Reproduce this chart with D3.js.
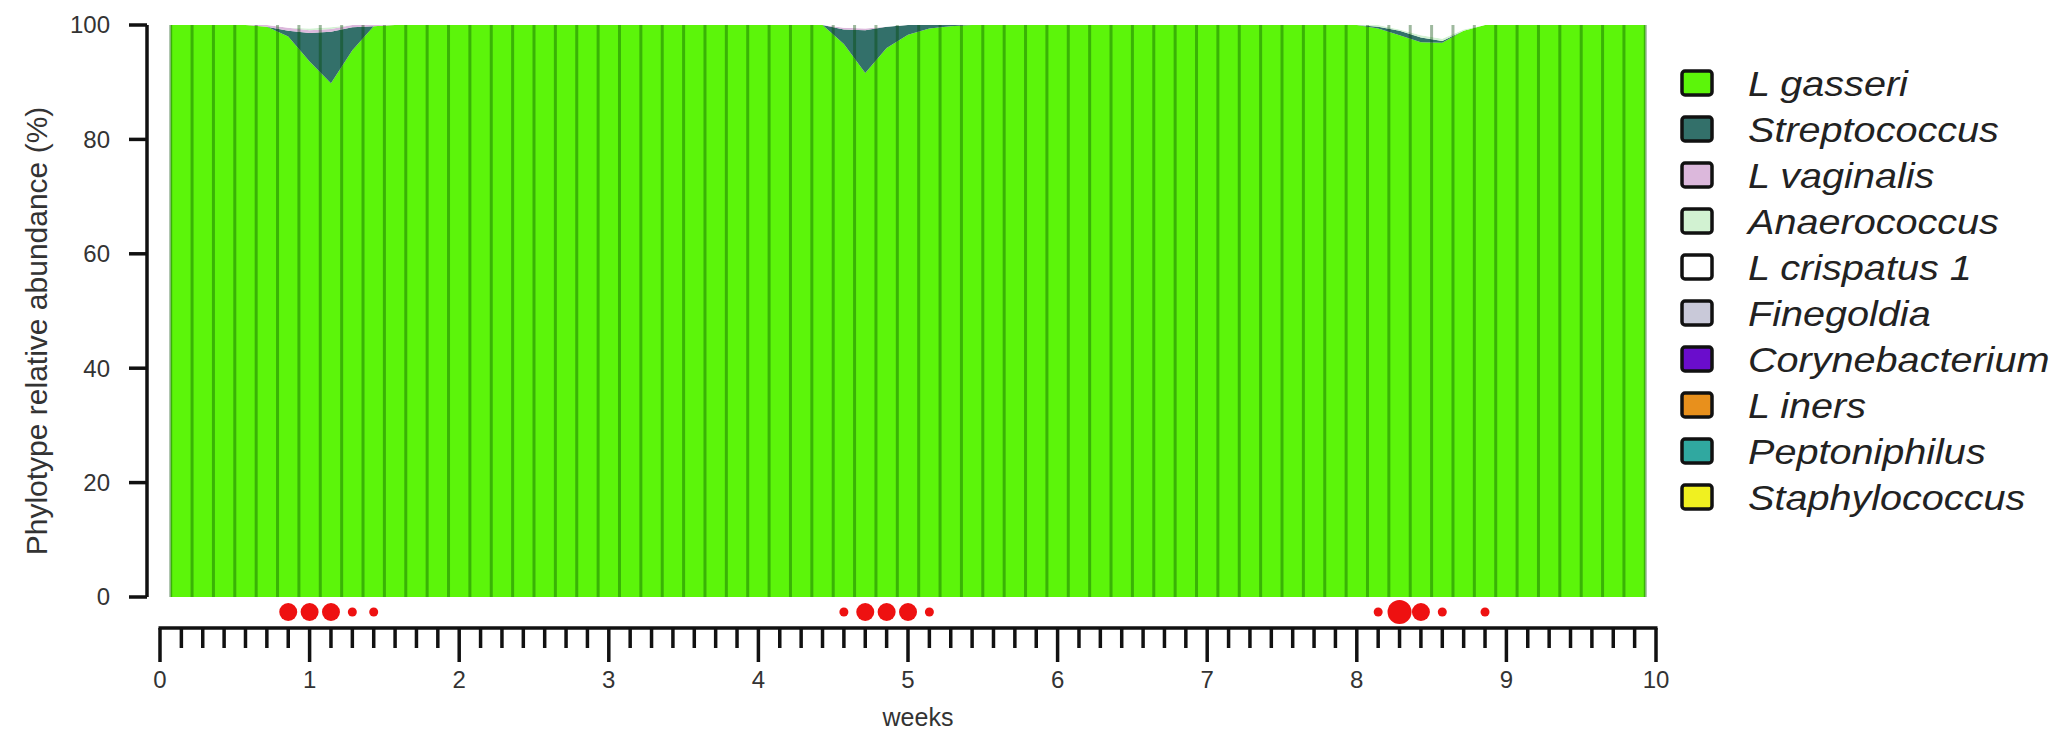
<!DOCTYPE html>
<html>
<head>
<meta charset="utf-8">
<script src="https://cdn.jsdelivr.net/npm/d3@7"></script>
<style>
  body { margin: 0; background: #fff; }
  text { font-family: "Liberation Sans", Arial, sans-serif; }
</style>
</head>
<body>
<div id="chart"></div>
<script>
// sample days (daily samples over 10 weeks)
var days = d3.range(1, 70);

// L gasseri, % per day, one row per week
var lGasseri = [
  100, 100, 100, 100, 99.7, 98, 93.6,
  89.8, 95.6, 99.8, 100, 100, 100, 100,
  100, 100, 100, 100, 100, 100, 100,
  100, 100, 100, 100, 100, 100, 100,
  100, 100, 100, 96.7, 91.6, 96, 98.3,
  99.4, 99.8, 100, 100, 100, 100, 100,
  100, 100, 100, 100, 100, 100, 100,
  100, 100, 100, 100, 100, 100, 100,
  99.4, 98.2, 97, 96.9, 99, 100, 100,
  100, 100, 100, 100, 100, 100
];

// minor phylotypes, [day, %] where present
var streptococcus = [[6, 1], [7, 5], [8, 9], [9, 4], [32, 2.5], [33, 7.5], [34, 3.7],
  [35, 1.7], [36, 0.6], [37, 0.2], [57, 0.3], [58, 0.8], [59, 0.8], [60, 0.3]];
var lVaginalis = [[5, 0.3], [6, 0.5], [7, 0.5], [8, 0.5], [9, 0.4], [10, 0.2], [32, 0.3], [33, 0.3]];
var anaerococcus = [[7, 0.3], [8, 0.3], [57, 0.3], [58, 0.2], [59, 0.4], [60, 0.4], [61, 0.2]];
var lCrispatus1 = [[6, 0.5], [7, 0.6], [8, 0.4], [32, 0.5], [33, 0.6], [34, 0.3],
  [58, 0.8], [59, 1.8], [60, 2.4], [61, 0.8]];
var finegoldia = [];
var corynebacterium = [];
var lIners = [];
var peptoniphilus = [];
var staphylococcus = [];

var species = ["L gasseri", "Streptococcus", "L vaginalis", "Anaerococcus", "L crispatus 1",
  "Finegoldia", "Corynebacterium", "L iners", "Peptoniphilus", "Staphylococcus"];
var colors = ["#5cf50a", "#33706a", "#dcb8dc", "#d2f2d2", "#ffffff",
  "#c9c9d9", "#6a0dcc", "#e8901c", "#30a8a0", "#f0f020"];

// bleeding marks below the chart: [day, size]
var bleeding = [[6, 2], [7, 2], [8, 2], [9, 1], [10, 1],
  [32, 1], [33, 2], [34, 2], [35, 2], [36, 1],
  [57, 1], [58, 3], [59, 2], [60, 1], [62, 1]];

var yTicks = [0, 20, 40, 60, 80, 100];
var xTicks = [0, 1, 2, 3, 4, 5, 6, 7, 8, 9, 10];

// build table for the stack
var minor = [streptococcus, lVaginalis, anaerococcus, lCrispatus1, finegoldia,
  corynebacterium, lIners, peptoniphilus, staphylococcus];
var table = days.map(function(d, i) {
  var row = { day: d };
  row[species[0]] = lGasseri[i];
  minor.forEach(function(s, k) {
    var hit = s.find(function(p) { return p[0] === d; });
    row[species[k + 1]] = hit ? hit[1] : 0;
  });
  return row;
});

var W = 2065, H = 735;
var svg = d3.select("#chart").append("svg")
  .attr("width", W)
  .attr("height", H);

var x = d3.scaleLinear().domain([0, 10]).range([160, 1656]);
var y = d3.scaleLinear().domain([0, 100]).range([597, 25]);
function xd(day) { return x(day / 7); }

var stack = d3.stack().keys(species);
var layers = stack(table);

// first and last samples are drawn out to their half-day edges
var area = d3.area()
  .x(function(d, i, arr) {
    if (i === 0) return xd(d.data.day - 0.5);
    if (i === arr.length - 1) return xd(d.data.day + 0.5);
    return xd(d.data.day);
  })
  .y0(function(d) { return y(d[0]); })
  .y1(function(d) { return y(d[1]); });

svg.append("g")
  .selectAll("path")
  .data(layers)
  .enter()
  .append("path")
  .attr("d", area)
  .attr("fill", function(d, i) { return colors[i]; });

// sample separators
svg.append("g")
  .selectAll("line")
  .data(d3.range(0.5, 70, 1))
  .enter()
  .append("line")
  .attr("x1", function(d) { return xd(d); })
  .attr("x2", function(d) { return xd(d); })
  .attr("y1", y(100))
  .attr("y2", y(0))
  .attr("stroke", "rgba(0,70,0,0.38)")
  .attr("stroke-width", 3);

// y axis
var yAxis = svg.append("g").attr("transform", "translate(147,0)");
yAxis.append("line")
  .attr("y1", y(0)).attr("y2", y(100))
  .attr("stroke", "#111").attr("stroke-width", 3.5);
yAxis.selectAll(".tick")
  .data(yTicks)
  .enter()
  .append("line")
  .attr("x1", -18).attr("x2", 0)
  .attr("y1", function(d) { return y(d); })
  .attr("y2", function(d) { return y(d); })
  .attr("stroke", "#111").attr("stroke-width", 3.5);
yAxis.selectAll("text")
  .data(yTicks)
  .enter()
  .append("text")
  .attr("x", -37)
  .attr("y", function(d) { return y(d); })
  .attr("dy", "0.35em")
  .attr("text-anchor", "end")
  .style("font-size", "24px")
  .style("fill", "#333")
  .text(function(d) { return d; });

svg.append("text")
  .attr("transform", "translate(47,331)rotate(-90)")
  .attr("text-anchor", "middle")
  .style("font-size", "30px")
  .style("fill", "#333")
  .text("Phylotype relative abundance (%)");

// x axis with daily minor ticks
var xAxisY = 628;
var xAxis = svg.append("g").attr("transform", "translate(0," + xAxisY + ")");
xAxis.append("line")
  .attr("x1", x(0) - 1.5).attr("x2", x(10) + 1.5)
  .attr("stroke", "#111").attr("stroke-width", 3.5);
xAxis.selectAll(".minor")
  .data(d3.range(0, 71))
  .enter()
  .append("line")
  .attr("x1", function(d) { return xd(d); })
  .attr("x2", function(d) { return xd(d); })
  .attr("y1", 0)
  .attr("y2", function(d) { return d % 7 === 0 ? 34 : 20; })
  .attr("stroke", "#111").attr("stroke-width", 3.5);
xAxis.selectAll("text")
  .data(xTicks)
  .enter()
  .append("text")
  .attr("x", function(d) { return x(d); })
  .attr("y", 60)
  .attr("text-anchor", "middle")
  .style("font-size", "24px")
  .style("fill", "#333")
  .text(function(d) { return d; });

svg.append("text")
  .attr("x", 918)
  .attr("y", 726)
  .attr("text-anchor", "middle")
  .style("font-size", "25px")
  .style("fill", "#333")
  .text("weeks");

// bleeding dots
var r = d3.scaleOrdinal().domain([1, 2, 3]).range([4.5, 9, 12]);
svg.append("g")
  .selectAll("circle")
  .data(bleeding)
  .enter()
  .append("circle")
  .attr("cx", function(d) { return xd(d[0]); })
  .attr("cy", 612)
  .attr("r", function(d) { return r(d[1]); })
  .attr("fill", "#ee1111");

// legend
var legend = svg.append("g").attr("transform", "translate(1682,83)");
var item = legend.selectAll("g")
  .data(species)
  .enter()
  .append("g")
  .attr("transform", function(d, i) { return "translate(0," + i * 46 + ")"; });
item.append("rect")
  .attr("x", 0).attr("y", -12)
  .attr("width", 30).attr("height", 24)
  .attr("rx", 3)
  .attr("fill", function(d, i) { return colors[i]; })
  .attr("stroke", "#111")
  .attr("stroke-width", 3.5);
item.append("text")
  .attr("transform", "translate(66,0)scale(1.1,1)")
  .attr("dy", "0.36em")
  .style("font-size", "36px")
  .style("font-style", "italic")
  .style("fill", "#222")
  .text(function(d) { return d; });
</script>
</body>
</html>
